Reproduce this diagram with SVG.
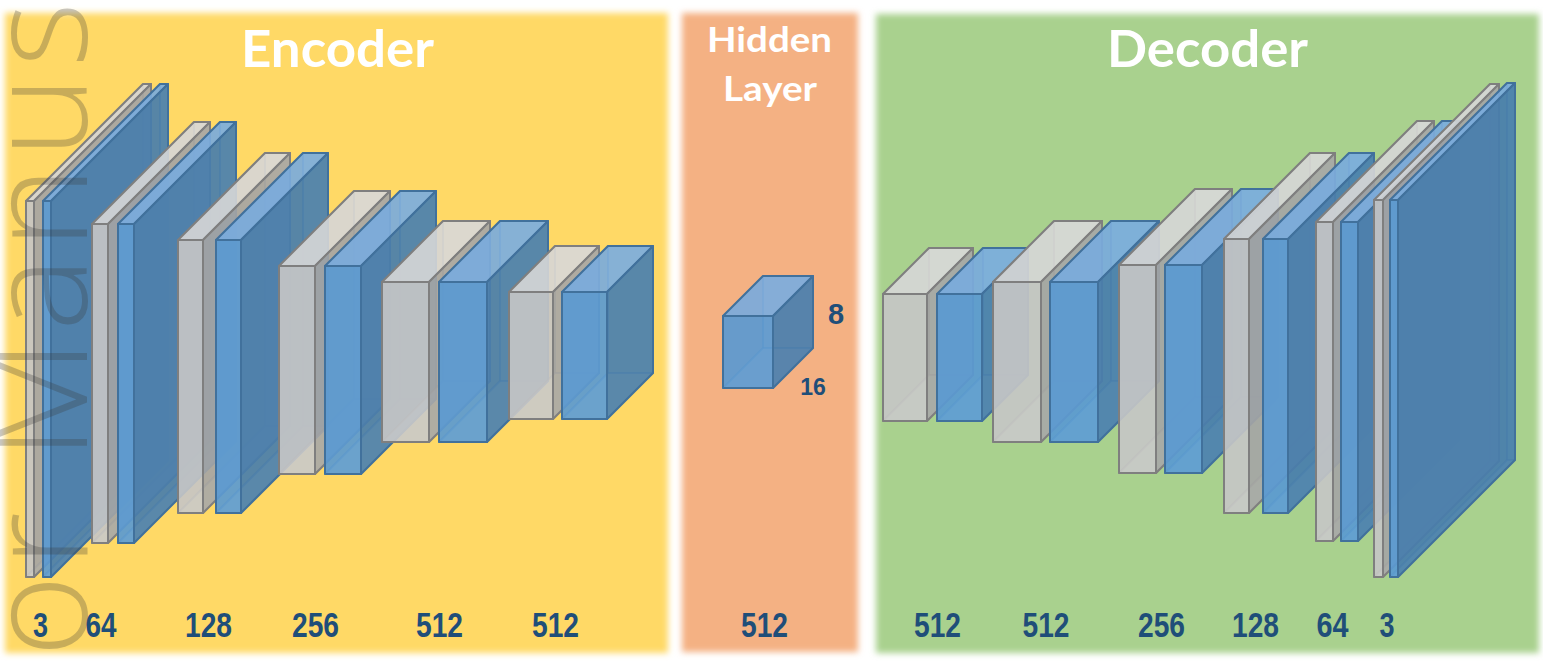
<svg xmlns="http://www.w3.org/2000/svg" width="1543" height="663" viewBox="0 0 1543 663">
<defs>
<filter id="soft" x="-5%" y="-5%" width="110%" height="110%"><feGaussianBlur stdDeviation="3"/></filter>
<style>
.title{font-family:Lato,"Open Sans","Liberation Sans",sans-serif;font-weight:bold;fill:#FFFFFF;text-anchor:middle}
.num{font-family:"Liberation Sans",Arial,sans-serif;font-weight:bold;font-size:35px;fill:#1F4E79;text-anchor:middle}
.dim{font-family:"Liberation Sans",Arial,sans-serif;font-weight:bold;fill:#1F4E79;text-anchor:middle}
.wm{font-family:"Open Sans","Liberation Sans",sans-serif;font-weight:300;font-size:140px;fill:#3a3a3a;fill-opacity:.28}
.g path{stroke:#7F7F7F;stroke-width:2;stroke-linejoin:round}
.b path{stroke:#41719C;stroke-width:2;stroke-linejoin:round}
.g .f,.g .hf{fill:#C8C8C8}
.g .t,.g .ht{fill:#D9D9D9}
.g .s,.g .hs{fill:#A5A5A5}
.b .f,.b .hf{fill:#5B9BD5}
.b .t,.b .ht{fill:#7DAEE0}
.b .s,.b .hs{fill:#467CAD}
.f,.t,.s{fill-opacity:.85}
.hf,.hs,.ht{fill-opacity:.4;stroke-opacity:.3}
</style>
</defs>
<rect width="1543" height="663" fill="#FFFFFF"/>
<g id="panels">
<rect id="encoder-bg" x="5" y="13" width="663" height="640" fill="#FFD966" filter="url(#soft)"/>
<rect id="hidden-bg" x="682" y="13" width="176" height="639" fill="#F4B183" filter="url(#soft)"/>
<rect id="decoder-bg" x="876" y="14" width="663" height="639" fill="#A9D18E" filter="url(#soft)"/>
</g>
<g id="titles">
<text class="title" x="337.5" y="67" font-size="52" textLength="193" lengthAdjust="spacingAndGlyphs">Encoder</text>
<text class="title" x="769.5" y="52" font-size="35" textLength="125" lengthAdjust="spacingAndGlyphs">Hidden</text>
<text class="title" x="770" y="101" font-size="35" textLength="94" lengthAdjust="spacingAndGlyphs">Layer</text>
<text class="title" x="1207.5" y="67" font-size="52" textLength="201" lengthAdjust="spacingAndGlyphs">Decoder</text>
</g>
<g id="encoder">
<g id="enc-g3" class="g"><path class="hf" d="M143,84H151V460H143Z"/><path class="hs" d="M26,201L143,84V460L26,577Z"/><path class="ht" d="M26,577L143,460H151L34,577Z"/><path class="f" d="M26,201H34V577H26Z"/><path class="t" d="M26,201L143,84H151L34,201Z"/><path class="s" d="M34,201L151,84V460L34,577Z"/></g>
<g id="enc-b3" class="b"><path class="hf" d="M160,84H168V460H160Z"/><path class="hs" d="M43,201L160,84V460L43,577Z"/><path class="ht" d="M43,577L160,460H168L51,577Z"/><path class="f" d="M43,201H51V577H43Z"/><path class="t" d="M43,201L160,84H168L51,201Z"/><path class="s" d="M51,201L168,84V460L51,577Z"/></g>
<g id="enc-g64" class="g"><path class="hf" d="M194,122H210V441H194Z"/><path class="hs" d="M92,224L194,122V441L92,543Z"/><path class="ht" d="M92,543L194,441H210L108,543Z"/><path class="f" d="M92,224H108V543H92Z"/><path class="t" d="M92,224L194,122H210L108,224Z"/><path class="s" d="M108,224L210,122V441L108,543Z"/></g>
<g id="enc-b64" class="b"><path class="hf" d="M220,122H236V441H220Z"/><path class="hs" d="M118,224L220,122V441L118,543Z"/><path class="ht" d="M118,543L220,441H236L134,543Z"/><path class="f" d="M118,224H134V543H118Z"/><path class="t" d="M118,224L220,122H236L134,224Z"/><path class="s" d="M134,224L236,122V441L134,543Z"/></g>
<g id="enc-g128" class="g"><path class="hf" d="M265,153H290V426H265Z"/><path class="hs" d="M178,240L265,153V426L178,513Z"/><path class="ht" d="M178,513L265,426H290L203,513Z"/><path class="f" d="M178,240H203V513H178Z"/><path class="t" d="M178,240L265,153H290L203,240Z"/><path class="s" d="M203,240L290,153V426L203,513Z"/></g>
<g id="enc-b128" class="b"><path class="hf" d="M303,153H328V426H303Z"/><path class="hs" d="M216,240L303,153V426L216,513Z"/><path class="ht" d="M216,513L303,426H328L241,513Z"/><path class="f" d="M216,240H241V513H216Z"/><path class="t" d="M216,240L303,153H328L241,240Z"/><path class="s" d="M241,240L328,153V426L241,513Z"/></g>
<g id="enc-g256" class="g"><path class="hf" d="M354,191H390V399H354Z"/><path class="hs" d="M279,266L354,191V399L279,474Z"/><path class="ht" d="M279,474L354,399H390L315,474Z"/><path class="f" d="M279,266H315V474H279Z"/><path class="t" d="M279,266L354,191H390L315,266Z"/><path class="s" d="M315,266L390,191V399L315,474Z"/></g>
<g id="enc-b256" class="b"><path class="hf" d="M400,191H436V399H400Z"/><path class="hs" d="M325,266L400,191V399L325,474Z"/><path class="ht" d="M325,474L400,399H436L361,474Z"/><path class="f" d="M325,266H361V474H325Z"/><path class="t" d="M325,266L400,191H436L361,266Z"/><path class="s" d="M361,266L436,191V399L361,474Z"/></g>
<g id="enc-g512a" class="g"><path class="hf" d="M443,221H490V381H443Z"/><path class="hs" d="M382,282L443,221V381L382,442Z"/><path class="ht" d="M382,442L443,381H490L429,442Z"/><path class="f" d="M382,282H429V442H382Z"/><path class="t" d="M382,282L443,221H490L429,282Z"/><path class="s" d="M429,282L490,221V381L429,442Z"/></g>
<g id="enc-b512a" class="b"><path class="hf" d="M500,221H548V381H500Z"/><path class="hs" d="M439,282L500,221V381L439,442Z"/><path class="ht" d="M439,442L500,381H548L487,442Z"/><path class="f" d="M439,282H487V442H439Z"/><path class="t" d="M439,282L500,221H548L487,282Z"/><path class="s" d="M487,282L548,221V381L487,442Z"/></g>
<g id="enc-g512b" class="g"><path class="hf" d="M555,246H599V373H555Z"/><path class="hs" d="M509,292L555,246V373L509,419Z"/><path class="ht" d="M509,419L555,373H599L553,419Z"/><path class="f" d="M509,292H553V419H509Z"/><path class="t" d="M509,292L555,246H599L553,292Z"/><path class="s" d="M553,292L599,246V373L553,419Z"/></g>
<g id="enc-b512b" class="b"><path class="hf" d="M608,246H653V373H608Z"/><path class="hs" d="M562,292L608,246V373L562,419Z"/><path class="ht" d="M562,419L608,373H653L607,419Z"/><path class="f" d="M562,292H607V419H562Z"/><path class="t" d="M562,292L608,246H653L607,292Z"/><path class="s" d="M607,292L653,246V373L607,419Z"/></g>
</g>
<g id="hidden-layer">
<g id="hid-cube" class="b"><path class="hf" d="M763,276H813V348H763Z"/><path class="hs" d="M723,316L763,276V348L723,388Z"/><path class="ht" d="M723,388L763,348H813L773,388Z"/><path class="f" d="M723,316H773V388H723Z"/><path class="t" d="M723,316L763,276H813L773,316Z"/><path class="s" d="M773,316L813,276V348L773,388Z"/></g>
<text class="dim" x="836" y="324" font-size="29">8</text>
<text class="dim" x="813" y="395" font-size="23">16</text>
</g>
<g id="decoder">
<g id="dec-g512a" class="g"><path class="hf" d="M929,248H973V375H929Z"/><path class="hs" d="M883,294L929,248V375L883,421Z"/><path class="ht" d="M883,421L929,375H973L927,421Z"/><path class="f" d="M883,294H927V421H883Z"/><path class="t" d="M883,294L929,248H973L927,294Z"/><path class="s" d="M927,294L973,248V375L927,421Z"/></g>
<g id="dec-b512a" class="b"><path class="hf" d="M983,248H1028V375H983Z"/><path class="hs" d="M937,294L983,248V375L937,421Z"/><path class="ht" d="M937,421L983,375H1028L982,421Z"/><path class="f" d="M937,294H982V421H937Z"/><path class="t" d="M937,294L983,248H1028L982,294Z"/><path class="s" d="M982,294L1028,248V375L982,421Z"/></g>
<g id="dec-g512b" class="g"><path class="hf" d="M1054,221H1102V381H1054Z"/><path class="hs" d="M993,282L1054,221V381L993,442Z"/><path class="ht" d="M993,442L1054,381H1102L1041,442Z"/><path class="f" d="M993,282H1041V442H993Z"/><path class="t" d="M993,282L1054,221H1102L1041,282Z"/><path class="s" d="M1041,282L1102,221V381L1041,442Z"/></g>
<g id="dec-b512b" class="b"><path class="hf" d="M1111,221H1159V381H1111Z"/><path class="hs" d="M1050,282L1111,221V381L1050,442Z"/><path class="ht" d="M1050,442L1111,381H1159L1098,442Z"/><path class="f" d="M1050,282H1098V442H1050Z"/><path class="t" d="M1050,282L1111,221H1159L1098,282Z"/><path class="s" d="M1098,282L1159,221V381L1098,442Z"/></g>
<g id="dec-g256" class="g"><path class="hf" d="M1195,189H1232V397H1195Z"/><path class="hs" d="M1119,265L1195,189V397L1119,473Z"/><path class="ht" d="M1119,473L1195,397H1232L1156,473Z"/><path class="f" d="M1119,265H1156V473H1119Z"/><path class="t" d="M1119,265L1195,189H1232L1156,265Z"/><path class="s" d="M1156,265L1232,189V397L1156,473Z"/></g>
<g id="dec-b256" class="b"><path class="hf" d="M1241,189H1278V397H1241Z"/><path class="hs" d="M1165,265L1241,189V397L1165,473Z"/><path class="ht" d="M1165,473L1241,397H1278L1202,473Z"/><path class="f" d="M1165,265H1202V473H1165Z"/><path class="t" d="M1165,265L1241,189H1278L1202,265Z"/><path class="s" d="M1202,265L1278,189V397L1202,473Z"/></g>
<g id="dec-g128" class="g"><path class="hf" d="M1310,153H1335V427H1310Z"/><path class="hs" d="M1224,239L1310,153V427L1224,513Z"/><path class="ht" d="M1224,513L1310,427H1335L1249,513Z"/><path class="f" d="M1224,239H1249V513H1224Z"/><path class="t" d="M1224,239L1310,153H1335L1249,239Z"/><path class="s" d="M1249,239L1335,153V427L1249,513Z"/></g>
<g id="dec-b128" class="b"><path class="hf" d="M1349,153H1374V427H1349Z"/><path class="hs" d="M1263,239L1349,153V427L1263,513Z"/><path class="ht" d="M1263,513L1349,427H1374L1288,513Z"/><path class="f" d="M1263,239H1288V513H1263Z"/><path class="t" d="M1263,239L1349,153H1374L1288,239Z"/><path class="s" d="M1288,239L1374,153V427L1288,513Z"/></g>
<g id="dec-g64" class="g"><path class="hf" d="M1417,121H1434V440H1417Z"/><path class="hs" d="M1316,222L1417,121V440L1316,541Z"/><path class="ht" d="M1316,541L1417,440H1434L1333,541Z"/><path class="f" d="M1316,222H1333V541H1316Z"/><path class="t" d="M1316,222L1417,121H1434L1333,222Z"/><path class="s" d="M1333,222L1434,121V440L1333,541Z"/></g>
<g id="dec-b64" class="b"><path class="hf" d="M1442,121H1459V440H1442Z"/><path class="hs" d="M1341,222L1442,121V440L1341,541Z"/><path class="ht" d="M1341,541L1442,440H1459L1358,541Z"/><path class="f" d="M1341,222H1358V541H1341Z"/><path class="t" d="M1341,222L1442,121H1459L1358,222Z"/><path class="s" d="M1358,222L1459,121V440L1358,541Z"/></g>
<g id="dec-g3" class="g"><path class="hf" d="M1490,84H1499V461H1490Z"/><path class="hs" d="M1374,200L1490,84V461L1374,577Z"/><path class="ht" d="M1374,577L1490,461H1499L1383,577Z"/><path class="f" d="M1374,200H1383V577H1374Z"/><path class="t" d="M1374,200L1490,84H1499L1383,200Z"/><path class="s" d="M1383,200L1499,84V461L1383,577Z"/></g>
<g id="dec-b3" class="b"><path class="hf" d="M1507,83H1515V460H1507Z"/><path class="hs" d="M1390,200L1507,83V460L1390,577Z"/><path class="ht" d="M1390,577L1507,460H1515L1398,577Z"/><path class="f" d="M1390,200H1398V577H1390Z"/><path class="t" d="M1390,200L1507,83H1515L1398,200Z"/><path class="s" d="M1398,200L1515,83V460L1398,577Z"/></g>
</g>
<g id="labels">
<text class="num" x="40.5" y="637" textLength="15" lengthAdjust="spacingAndGlyphs">3</text>
<text class="num" x="101" y="637" textLength="31" lengthAdjust="spacingAndGlyphs">64</text>
<text class="num" x="208.5" y="637" textLength="47" lengthAdjust="spacingAndGlyphs">128</text>
<text class="num" x="315.5" y="637" textLength="47" lengthAdjust="spacingAndGlyphs">256</text>
<text class="num" x="439.5" y="637" textLength="47" lengthAdjust="spacingAndGlyphs">512</text>
<text class="num" x="555.5" y="637" textLength="47" lengthAdjust="spacingAndGlyphs">512</text>
<text class="num" x="764.5" y="637" textLength="47" lengthAdjust="spacingAndGlyphs">512</text>
<text class="num" x="937.5" y="637" textLength="47" lengthAdjust="spacingAndGlyphs">512</text>
<text class="num" x="1046" y="637" textLength="47" lengthAdjust="spacingAndGlyphs">512</text>
<text class="num" x="1161.5" y="637" textLength="47" lengthAdjust="spacingAndGlyphs">256</text>
<text class="num" x="1255.5" y="637" textLength="47" lengthAdjust="spacingAndGlyphs">128</text>
<text class="num" x="1332.5" y="637" textLength="32" lengthAdjust="spacingAndGlyphs">64</text>
<text class="num" x="1387" y="637" textLength="15" lengthAdjust="spacingAndGlyphs">3</text>
</g>
<g id="watermark">
<text class="wm" transform="translate(87,657) rotate(-90)" x="0" y="0" textLength="655" lengthAdjust="spacing">or Manus</text>
</g>
</svg>
